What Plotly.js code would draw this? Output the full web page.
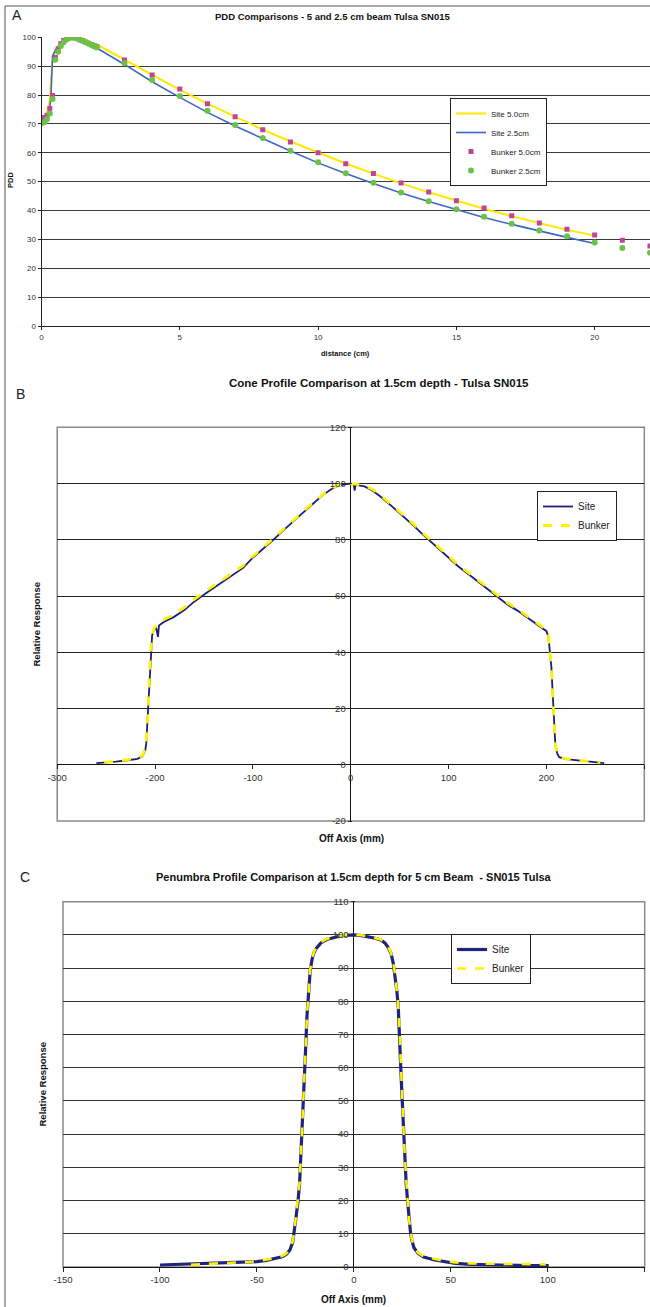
<!DOCTYPE html>
<html><head><meta charset="utf-8">
<script src="https://cdn.plot.ly/plotly-3.0.1.min.js"></script>
<style>html,body{margin:0;padding:0;background:#fff;}#chart{width:650px;height:1307px;}</style>
</head><body><div id="chart"></div>
<script>
// ---------- Panel A: PDD ----------
const pddSite50X = [0,0.1,0.2,0.3,0.35,0.4,0.5,0.6,0.8,1.0,1.2,1.5,2,3,4,5,6,7,8,9,10,11,12,13,14,15,16,17,18,19,20];
const pddSite50Y = [71,72,74,78,86,92,95,97,99,99.9,100,99.3,97.5,92.2,87,81.8,77,72.5,68,63.9,60,56.3,52.8,49.4,46.3,43.4,40.6,38,35.6,33.3,31.3];
const pddSite25X = [0,0.1,0.2,0.3,0.34,0.37,0.4,0.5,0.7,1.0,1.2,1.5,2,3,4,5,6,7,8,9,10,11,12,13,14,15,16,17,18,19,20];
const pddSite25Y = [70.5,71,72,76,79,92,93.5,95.5,97.8,99.7,100,99,96.3,90.6,84.6,79.2,74,69.3,64.9,60.6,56.5,52.8,49.4,46.1,43.1,40.3,37.6,35.2,32.9,30.7,28.6];
const pddBunk50X = [0,0.1,0.2,0.3,0.4,0.5,0.6,0.7,0.8,0.9,1.0,1.1,1.2,1.3,1.4,1.5,1.6,1.7,1.8,1.9,2.0,3,4,5,6,7,8,9,10,11,12,13,14,15,16,17,18,19,20,21,22];
const pddBunk50Y = [71.8,72.2,73,75.3,79.8,93,96,97.8,98.9,99.6,100,100,99.8,99.5,99.1,98.7,98.3,97.9,97.5,97.1,96.7,92.1,86.9,82.1,77,72.5,68,63.7,60,56.2,52.8,49.5,46.4,43.4,40.9,38.2,35.7,33.5,31.5,29.7,27.7];
const pddBunk25X = [0,0.1,0.2,0.3,0.4,0.5,0.6,0.7,0.8,0.9,1.0,1.1,1.2,1.3,1.4,1.5,1.6,1.7,1.8,1.9,2.0,3,4,5,6,7,8,9,10,11,12,13,14,15,16,17,18,19,20,21,22];
const pddBunk25Y = [70.2,70.6,71.6,73.6,78.6,92.2,95,97,98.3,99.2,99.7,100,99.9,99.6,99.2,98.8,98.3,97.8,97.3,96.9,96.5,91,85.2,79.7,74.6,69.6,65.1,60.7,56.7,52.9,49.6,46.2,43.2,40.4,37.8,35.4,33.1,31.1,28.9,27,25.4];
const pddXTicks = [0,5,10,15,20];
const pddXTickText = ['0','5','10','15','20'];
const pddYTicks = [0,10,20,30,40,50,60,70,80,90,100];
const pddYTickText = ['0','10','20','30','40','50','60','70','80','90','100'];

// ---------- Panel B: Cone profile ----------
const coneSiteX = [-260,-250,-240,-228,-218,-213,-210,-209,-208,-207,-206,-205,-204,-203,-201,-199,-197,-196,-190,-181,-170,-160,-148,-135,-122,-110,-101,-90,-80,-70,-60,-54,-45,-38,-29,-20,-12,-5,0,3,4,5,8,14,22,30,43,55,65,73,85,98,110,125,137,150,160,170,180,190,196,200,202,204,205,206,207,208,209,211,213,220,234,245,259];
const coneSiteY = [0.6,0.8,1.1,1.6,2.1,3.0,5,7.5,14,22,30,37,42,46,48,48.9,45.5,49.5,51,52.5,55,58,61,64,67,70,73.3,76.5,79.7,83,86,88,90.8,93,95.8,98,99.3,99.8,100,99.6,97.5,99.5,99.3,99,97.5,95.5,91.6,88,84.8,82.1,78.3,74.4,70.5,66.5,63.2,59.7,57,54.9,52.4,49.8,48.4,47.5,45.4,39.5,35,28,21.7,14,7.5,4,2.7,2.0,1.5,1.0,0.6];
const coneBunkX = [-252,-240,-228,-218,-213,-210,-208,-207,-206,-205,-204,-203,-201,-198,-190,-181,-170,-160,-148,-135,-122,-110,-101,-90,-80,-70,-60,-54,-45,-38,-29,-20,-12,-5,0,5,14,22,30,43,55,65,73,85,98,110,125,137,150,160,170,180,190,196,200,202,204,205,206,207,208,209,211,213,220,234,245,255];
const coneBunkY = [0.9,1.2,1.8,2.3,3.3,5.5,12,21.7,30,37,42,46,48.5,49.8,51.8,53.3,56,58.8,61.8,64.8,67.8,70.8,73.8,77,80.2,83.4,86.3,88.3,91.2,93.4,96,98.2,99.5,100,100,99.8,99.2,98,96,92,88.5,85.3,82.6,78.8,75,71,67,63.8,60.3,57.6,55.4,53,50.4,49,48,46,40,35,28,21.7,14,7.5,4,2.9,2.1,1.6,1.1,0.7];
const coneXTicks = [-300,-200,-100,0,100,200,300];
const coneXTickText = ['-300','-200','-100','0','100','200','300'];
const coneYTicks = [-20,0,20,40,60,80,100,120];
const coneYTickText = ['-20','0','20','40','60','80','100','120'];

// ---------- Panel C: Penumbra profile ----------
const penSiteX = [-100,-90,-80,-70,-60,-50,-45,-40,-37,-35,-33,-31.5,-30.6,-29.8,-28.9,-28,-27.4,-26.7,-26,-25.2,-24.7,-24.2,-23.5,-22.5,-21.5,-20.5,-19.3,-17,-14,-11.8,-8,-4,0,4,8,11,13.9,16,17.5,19.2,20.3,21.4,22.2,22.9,23.5,24.1,24.8,25.6,26.3,27,27.8,28.5,29.2,29.9,31,33.1,36,41.7,47,52.4,60,70,80,90,100.5];
const penSiteY = [0.6,0.8,1.0,1.2,1.4,1.6,2.0,2.6,3.1,3.8,5.1,7.5,11.1,15,19.2,25,32,40.3,50,61.3,68,75.4,82,89.4,92.8,94.8,96,97.6,98.6,99,99.5,99.9,100,99.8,99.4,99,98.5,97.6,96.4,94.4,91.5,87.4,83,78.4,72,61.3,52,41.3,33,25,19.2,14,10.5,8.1,5.8,4.1,3.0,2.1,1.5,1.1,0.8,0.6,0.5,0.4,0.4];
const penBunkX = [-84,-75,-65,-55,-50,-45,-40,-37,-35,-33,-31.5,-30.6,-29.8,-28.9,-28,-27.4,-26.7,-26,-25.2,-24.7,-24.2,-23.5,-22.5,-21.5,-20.5,-19.3,-17,-14,-11.8,-8,-4,0,4,8,11,13.9,16,17.5,19.2,20.3,21.4,22.2,22.9,23.5,24.1,24.8,25.6,26.3,27,27.8,28.5,29.2,29.9,31,33.1,36,41.7,47,52.4,60,70,80,90,99];
const penBunkY = [0.7,0.9,1.2,1.5,1.7,2.1,2.7,3.3,4.0,5.3,7.8,11.4,15.3,19.5,25.3,32.3,40.6,50.3,61.5,68.3,75.6,82.2,89.6,93,95,96.2,97.8,98.8,99.2,99.6,100,100,99.9,99.5,99.1,98.6,97.8,96.6,94.6,91.8,87.6,83.2,78.6,72.3,61.6,52.3,41.5,33.2,25.2,19.4,14.2,10.7,8.3,6.0,4.3,3.2,2.4,1.8,1.4,1.1,1.0,0.9,0.8,0.8];
const penXTicks = [-150,-100,-50,0,50,100,150];
const penXTickText = ['-150','-100','-50','0','50','100','150'];
const penYTicks = [0,10,20,30,40,50,60,70,80,90,100,110];
const penYTickText = ['0','10','20','30','40','50','60','70','80','90','100','110'];

// ---------- helpers ----------
const W = 650, H = 1307;
const px = x => x / W;
const py = y => 1 - y / H;
const FONT = 'Arial, "Liberation Sans", sans-serif';
const tickFont = s => ({family: FONT, size: s, color: '#333'});

const traces = [
  {x: pddSite50X, y: pddSite50Y, name: 'Site 5.0cm', mode: 'lines', line: {color: '#FFE800', width: 2}, xaxis: 'x', yaxis: 'y', legend: 'legend'},
  {x: pddSite25X, y: pddSite25Y, name: 'Site 2.5cm', mode: 'lines', line: {color: '#3F66C6', width: 1.6}, xaxis: 'x', yaxis: 'y', legend: 'legend'},
  {x: pddBunk50X, y: pddBunk50Y, name: 'Bunker 5.0cm', mode: 'markers', marker: {color: '#C0439E', symbol: 'square', size: 5}, xaxis: 'x', yaxis: 'y', legend: 'legend'},
  {x: pddBunk25X, y: pddBunk25Y, name: 'Bunker 2.5cm', mode: 'markers', marker: {color: '#6CC247', symbol: 'circle', size: 6}, xaxis: 'x', yaxis: 'y', legend: 'legend'},
  {x: coneSiteX, y: coneSiteY, name: 'Site', mode: 'lines', line: {color: '#1C1F78', width: 1.8}, xaxis: 'x2', yaxis: 'y2', legend: 'legend2'},
  {x: coneBunkX, y: coneBunkY, name: 'Bunker', mode: 'lines', line: {color: '#FFF200', width: 2.8, dash: 'dash'}, xaxis: 'x2', yaxis: 'y2', legend: 'legend2'},
  {x: penSiteX, y: penSiteY, name: 'Site', mode: 'lines', line: {color: '#1F247E', width: 3.2}, xaxis: 'x3', yaxis: 'y3', legend: 'legend3'},
  {x: penBunkX, y: penBunkY, name: 'Bunker', mode: 'lines', line: {color: '#FFF200', width: 2.6, dash: 'dash'}, xaxis: 'x3', yaxis: 'y3', legend: 'legend3'}
];

const legendBase = (x, y, size) => ({
  x: x, y: y, xanchor: 'left', yanchor: 'top', xref: 'paper', yref: 'paper',
  bgcolor: '#fff', bordercolor: '#222', borderwidth: 1,
  font: {family: FONT, size: size, color: '#222'}, tracegroupgap: 0
});

function ann(text, x, y, size, opts) {
  return Object.assign({text: text, x: px(x), y: py(y), xref: 'paper', yref: 'paper',
    showarrow: false, xanchor: 'center', yanchor: 'middle',
    font: {family: FONT, size: size, color: '#111', weight: 'bold'}}, opts || {});
}

const layout = {
  width: W, height: H, margin: {l: 0, r: 0, t: 0, b: 0},
  paper_bgcolor: '#fff', plot_bgcolor: '#fff', showlegend: true,
  legend: legendBase(px(450), py(98), 8),
  legend2: legendBase(px(537), py(491), 10),
  legend3: legendBase(px(451), py(934), 10),
  // Panel A
  xaxis: {domain: [px(41.5), 1], range: [0, 22], tickvals: pddXTicks, ticktext: pddXTickText, showgrid: false, zeroline: false,
    showline: true, linecolor: '#222', linewidth: 1, ticks: 'outside', ticklen: 3, tickcolor: '#222',
    tickfont: tickFont(8), anchor: 'y', fixedrange: true},
  yaxis: {domain: [py(326), py(37.3)], range: [0, 100], tickvals: pddYTicks, ticktext: pddYTickText, showgrid: true, gridcolor: '#3a3a3a', gridwidth: 1,
    zeroline: false, showline: true, linecolor: '#222', linewidth: 1, ticks: 'outside', ticklen: 3, tickcolor: '#222',
    tickfont: tickFont(8), anchor: 'x', fixedrange: true},
  // Panel B
  xaxis2: {domain: [px(57.2), px(644.3)], range: [-300, 300], tickvals: coneXTicks, ticktext: coneXTickText, showgrid: false,
    zeroline: true, zerolinecolor: '#111', zerolinewidth: 1, showline: false,
    ticks: 'outside', ticklen: 4, tickcolor: '#222', tickfont: tickFont(9.5),
    anchor: 'free', position: py(764.3), fixedrange: true},
  yaxis2: {domain: [py(821), py(427.3)], range: [-20, 120], tickvals: coneYTicks, ticktext: coneYTickText, showgrid: true, gridcolor: '#222', gridwidth: 1,
    zeroline: true, zerolinecolor: '#111', zerolinewidth: 1, showline: false,
    ticks: 'outside', ticklen: 4, tickcolor: '#222', tickfont: tickFont(9.5),
    anchor: 'free', position: px(351.6), fixedrange: true},
  // Panel C
  xaxis3: {domain: [px(63), px(644.7)], range: [-150, 150], tickvals: penXTicks, ticktext: penXTickText, showgrid: false,
    zeroline: true, zerolinecolor: '#111', zerolinewidth: 1, showline: true, linecolor: '#111', linewidth: 1,
    ticks: 'outside', ticklen: 4, tickcolor: '#222', tickfont: tickFont(9.5), anchor: 'y3', fixedrange: true},
  yaxis3: {domain: [py(1267), py(901.7)], range: [0, 110], tickvals: penYTicks, ticktext: penYTickText, showgrid: true, gridcolor: '#333', gridwidth: 1,
    zeroline: false, showline: false, ticks: 'outside', ticklen: 4, tickcolor: '#222', tickfont: tickFont(9.5),
    anchor: 'free', position: px(354.5), fixedrange: true},
  shapes: [
    {type: 'line', xref: 'paper', yref: 'paper', x0: px(5), x1: px(5), y0: py(6), y1: 0, line: {color: '#555', width: 1}},
    {type: 'line', xref: 'paper', yref: 'paper', x0: px(5), x1: 1, y0: py(6), y1: py(6), line: {color: '#555', width: 1}},
    {type: 'rect', xref: 'x2 domain', yref: 'y2 domain', x0: 0, x1: 1, y0: 0, y1: 1, line: {color: '#8a8a8a', width: 1.5}, layer: 'below'},
    {type: 'rect', xref: 'x3 domain', yref: 'y3 domain', x0: 0, x1: 1, y0: 0, y1: 1, line: {color: '#8a8a8a', width: 1.5}, layer: 'below'}
  ],
  annotations: [
    ann('PDD Comparisons - 5 and 2.5 cm beam Tulsa SN015', 332, 17, 9.5),
    ann('distance (cm)', 346, 354, 7.5),
    ann('PDD', 10, 180, 7.5, {textangle: -90}),
    ann('Cone Profile Comparison at 1.5cm depth - Tulsa SN015', 379, 383, 11.5),
    ann('Relative Response', 36.5, 625, 9.5, {textangle: -90}),
    ann('Off Axis (mm)', 351, 838, 10),
    ann('Penumbra Profile Comparison at 1.5cm depth for 5 cm Beam  - SN015 Tulsa', 354, 877, 11),
    ann('Relative Response', 41.5, 1085, 9.5, {textangle: -90}),
    ann('Off Axis (mm)', 353, 1299, 10),
    ann('A', 16.6, 15, 14, {font: {family: FONT, size: 14, color: '#222'}}),
    ann('B', 20.7, 394, 14, {font: {family: FONT, size: 14, color: '#222'}}),
    ann('C', 25, 877, 14, {font: {family: FONT, size: 14, color: '#222'}})
  ]
};

Plotly.newPlot('chart', traces, layout, {displayModeBar: false, staticPlot: true});
</script>
</body></html>
